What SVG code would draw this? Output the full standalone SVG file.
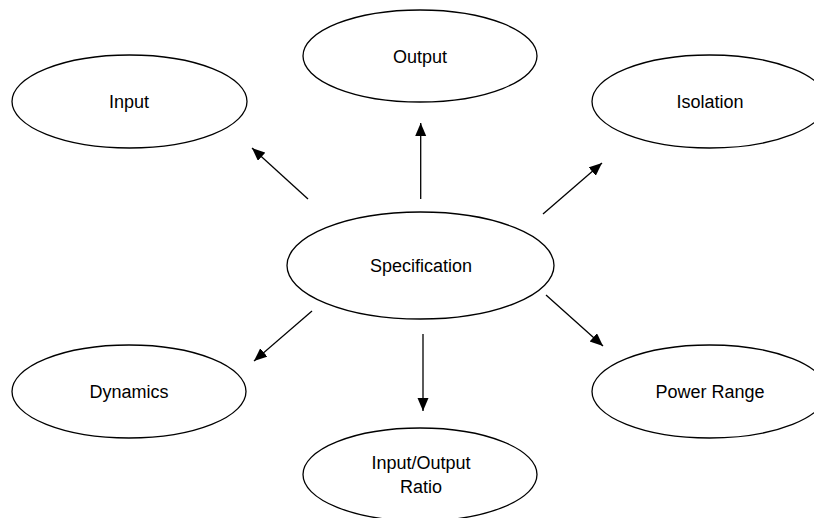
<svg xmlns="http://www.w3.org/2000/svg" width="814" height="518" viewBox="0 0 814 518">
<defs>
<style>
.n ellipse{fill:#fff;stroke:#000;stroke-width:1.3}
.n text{font-family:"Liberation Sans",Arial,sans-serif;font-size:18px;fill:#000;text-anchor:middle}
.c line{stroke:#000;stroke-width:1.3}
</style>
<marker id="ah" markerUnits="userSpaceOnUse" markerWidth="14" markerHeight="12" refX="13" refY="5.5" orient="auto">
<path d="M0,0 L13,5.5 L0,11 Z" fill="#000"/>
</marker>
</defs>
<rect width="814" height="518" fill="#fff"/>
<g class="c" id="connectors">
<line x1="308" y1="199" x2="252" y2="148" marker-end="url(#ah)"/>
<line x1="420.7" y1="199" x2="420.7" y2="123" marker-end="url(#ah)"/>
<line x1="543" y1="214" x2="602" y2="163" marker-end="url(#ah)"/>
<line x1="312" y1="311" x2="254" y2="361" marker-end="url(#ah)"/>
<line x1="423" y1="334" x2="423" y2="411" marker-end="url(#ah)"/>
<line x1="546" y1="295" x2="603" y2="346" marker-end="url(#ah)"/>
</g>
<g class="n" id="node-output"><ellipse cx="420" cy="56" rx="117" ry="46"/><text x="420" y="63">Output</text></g>
<g class="n" id="node-input"><ellipse cx="129.5" cy="101.5" rx="117.5" ry="46.5"/><text x="129" y="108">Input</text></g>
<g class="n" id="node-isolation"><ellipse cx="709.5" cy="101.5" rx="117.5" ry="46.5"/><text x="710" y="108">Isolation</text></g>
<g class="n" id="node-specification"><ellipse cx="420.5" cy="265.5" rx="133.5" ry="53.5"/><text x="421" y="272">Specification</text></g>
<g class="n" id="node-dynamics"><ellipse cx="129" cy="391.5" rx="117" ry="46.5"/><text x="129" y="398">Dynamics</text></g>
<g class="n" id="node-power-range"><ellipse cx="709.5" cy="391.5" rx="117.5" ry="46.5"/><text x="710" y="398">Power Range</text></g>
<g class="n" id="node-ratio"><ellipse cx="420" cy="474.5" rx="117" ry="46.5"/><text x="421" y="469">Input/Output</text><text x="421" y="493">Ratio</text></g>
</svg>
